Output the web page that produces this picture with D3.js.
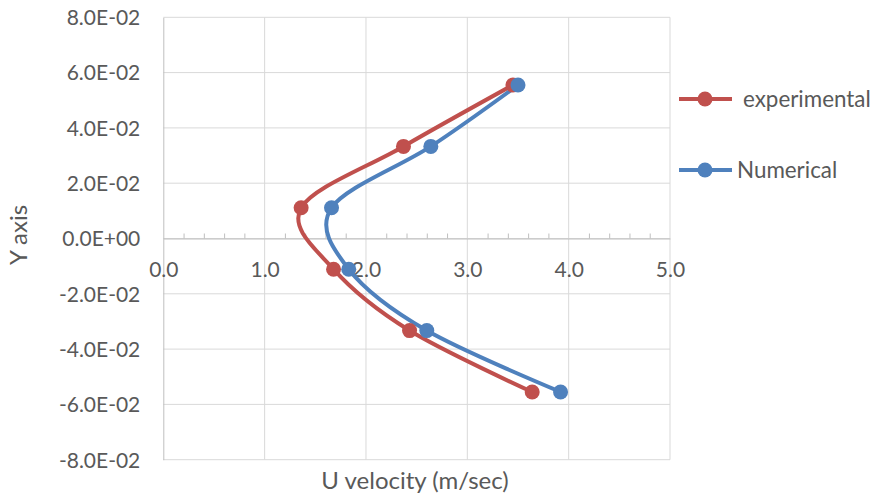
<!DOCTYPE html>
<html>
<head>
<meta charset="utf-8">
<script src="https://cdn.jsdelivr.net/npm/d3@7"></script>
<style>
  body { margin: 0; background: #fff; }
  text { font-family: Lato, 'Open Sans', sans-serif; fill: #595959; }
</style>
</head>
<body>
<div id="chart"></div>
<script>
// y positions of the measuring points
const yLevels = [0.0555, 0.0333, 0.0111, -0.0111, -0.0333, -0.0555]
const experimental = [3.45, 2.37, 1.36, 1.68, 2.43, 3.64]
const numerical = [3.50, 2.64, 1.66, 1.83, 2.60, 3.92]

const xTicks = [0, 1, 2, 3, 4, 5]
const xTickLabels = ['0.0', '1.0', '2.0', '3.0', '4.0', '5.0']
const yTicks = [0.08, 0.06, 0.04, 0.02, 0, -0.02, -0.04, -0.06, -0.08]
const yTickLabels = ['8.0E-02', '6.0E-02', '4.0E-02', '2.0E-02', '0.0E+00',
  '-2.0E-02', '-4.0E-02', '-6.0E-02', '-8.0E-02']

const seriesNames = ['experimental', 'Numerical']
const seriesColors = ['#C0504D', '#4F81BD']

const width = 874
const height = 495
const margin = { top: 17.3, right: 204, bottom: 35.3, left: 163.3 }

const svg = d3
  .select('#chart')
  .append('svg')
  .attr('width', width)
  .attr('height', height)

const x = d3.scaleLinear().domain([0, 5]).range([margin.left, width - margin.right])
const y = d3.scaleLinear().domain([-0.08, 0.08]).range([height - margin.bottom, margin.top])

// horizontal gridlines
svg
  .append('g')
  .selectAll('line')
  .data(yTicks)
  .enter()
  .append('line')
  .attr('x1', x(0))
  .attr('x2', x(5))
  .attr('y1', d => y(d))
  .attr('y2', d => y(d))
  .attr('stroke', '#d9d9d9')

// vertical gridlines
svg
  .append('g')
  .selectAll('line')
  .data(xTicks.slice(1))
  .enter()
  .append('line')
  .attr('x1', d => x(d))
  .attr('x2', d => x(d))
  .attr('y1', y(0.08))
  .attr('y2', y(-0.08))
  .attr('stroke', '#d9d9d9')

// y axis on the left
const yAxis = d3
  .axisLeft(y)
  .tickValues(yTicks)
  .tickFormat((d, i) => yTickLabels[i])
  .tickSize(0)
  .tickPadding(23)

svg
  .append('g')
  .attr('class', 'y-axis')
  .attr('transform', 'translate(' + x(0) + ',0)')
  .call(yAxis)
svg.selectAll('.y-axis .domain').attr('stroke', '#bfbfbf')
svg.selectAll('.y-axis text').style('font-size', '21px').attr('dy', '0.35em')

// x axis crossing at y = 0
const xAxis = d3
  .axisBottom(x)
  .tickValues(xTicks)
  .tickFormat((d, i) => xTickLabels[i])
  .tickSize(0)
  .tickPadding(24)

svg
  .append('g')
  .attr('class', 'x-axis')
  .attr('transform', 'translate(0,' + y(0) + ')')
  .call(xAxis)
svg.selectAll('.x-axis .domain').attr('stroke', '#bfbfbf')
svg.selectAll('.x-axis text').style('font-size', '21px')

// minor ticks every 0.2
const minorTicks = d3.range(0.2, 5, 0.2).filter(d => Math.abs(d - Math.round(d)) > 0.01)
svg
  .append('g')
  .attr('transform', 'translate(0,' + y(0) + ')')
  .call(d3.axisTop(x).tickValues(minorTicks).tickFormat('').tickSize(5))
  .call(g => g.select('.domain').remove())
  .selectAll('line')
  .attr('stroke', '#bfbfbf')

// lines
const line = d3
  .line()
  .x(d => x(d[0]))
  .y(d => y(d[1]))
  .curve(d3.curveCatmullRom.alpha(0))

const series = [experimental, numerical].map(vals => vals.map((v, i) => [v, yLevels[i]]))

series.forEach((pts, s) => {
  svg
    .append('path')
    .datum(pts)
    .attr('d', line)
    .attr('fill', 'none')
    .attr('stroke', seriesColors[s])
    .attr('stroke-width', 4)
    .attr('stroke-linecap', 'round')
})

series.forEach((pts, s) => {
  svg
    .append('g')
    .selectAll('circle')
    .data(pts)
    .enter()
    .append('circle')
    .attr('cx', d => x(d[0]))
    .attr('cy', d => y(d[1]))
    .attr('r', 7.5)
    .attr('fill', seriesColors[s])
})

// legend
const legendY = [99, 170]
const legendTextX = [743, 737]
seriesNames.forEach((name, s) => {
  const g = svg.append('g')
  g.append('line')
    .attr('x1', 679)
    .attr('x2', 732)
    .attr('y1', legendY[s])
    .attr('y2', legendY[s])
    .attr('stroke', seriesColors[s])
    .attr('stroke-width', 4)
  g.append('circle')
    .attr('cx', 705)
    .attr('cy', legendY[s])
    .attr('r', 7.5)
    .attr('fill', seriesColors[s])
  g.append('text')
    .attr('x', legendTextX[s])
    .attr('y', legendY[s])
    .attr('dy', '0.35em')
    .style('font-size', '22.4px')
    .text(name)
})

// axis titles
svg
  .append('text')
  .attr('x', 415)
  .attr('y', 481)
  .attr('dy', '0.35em')
  .attr('text-anchor', 'middle')
  .style('font-size', '24px')
  .text('U velocity (m/sec)')

svg
  .append('text')
  .attr('transform', 'translate(19,235) rotate(-90)')
  .attr('dy', '0.35em')
  .attr('text-anchor', 'middle')
  .style('font-size', '24px')
  .text('Y axis')
</script>
</body>
</html>
